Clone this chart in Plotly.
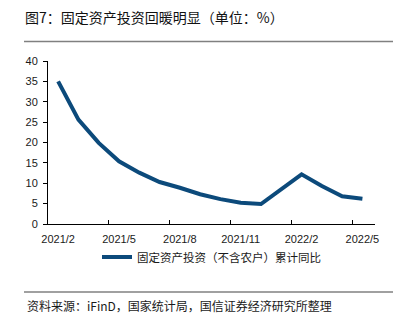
import plotly.graph_objects as go

# Cumulative year-on-year growth of fixed-asset investment (excluding rural households), %
months = ["2021/2", "2021/3", "2021/4", "2021/5", "2021/6", "2021/7", "2021/8",
          "2021/9", "2021/10", "2021/11", "2021/12", "2022/2", "2022/3", "2022/4", "2022/5"]
growth = [35.0, 25.6, 19.9, 15.4, 12.6, 10.3, 8.9, 7.3, 6.1, 5.2, 4.9, 12.2, 9.3, 6.8, 6.2]

tick_labels = ["2021/2", "2021/5", "2021/8", "2021/11", "2022/2", "2022/5"]
y_ticks = [0, 5, 10, 15, 20, 25, 30, 35, 40]


def month_index(label):
    y, m = label.split("/")
    return (int(y) - 2021) * 12 + int(m) - 2


x_vals = [month_index(m) for m in months]
label_pos = [month_index(t) for t in tick_labels]
boundary_pos = [p - 0.5 for p in label_pos[1:]]

LINE_COLOR = "#0c4a7b"
CJK = "Noto Sans CJK SC"
LATIN = "Liberation Sans, Arial, sans-serif"
X_RANGE = [-0.5, 15.62]

fig = go.Figure()
fig.add_trace(go.Scatter(
    x=x_vals, y=growth, mode="lines",
    name="固定资产投资（不含农户）累计同比",
    line=dict(color=LINE_COLOR, width=4),
    hoverinfo="skip",
))

fig.update_layout(
    width=403, height=324,
    margin=dict(l=48, r=28, t=61, b=100),
    paper_bgcolor="white", plot_bgcolor="white",
    showlegend=True,
    title=dict(
        text="图7：固定资产投资回暖明显（单位：%）",
        x=25 / 403, xanchor="left", xref="container",
        y=1 - 18 / 324, yanchor="middle", yref="container",
        font=dict(family=CJK, size=14, color="#111111"),
    ),
    legend=dict(
        orientation="h", x=(97 - 48) / 327, xanchor="left",
        y=(224 - 257) / 163, yanchor="middle",
        font=dict(family=CJK, size=11.5, color="#1a1a1a"),
        bgcolor="rgba(0,0,0,0)", itemwidth=30,
    ),
    xaxis=dict(
        range=X_RANGE, showgrid=False, zeroline=False,
        showline=True, linecolor="black", linewidth=1,
        tickmode="array", tickvals=label_pos, ticktext=tick_labels,
        ticks="", ticklabelstandoff=5,
        tickfont=dict(family=LATIN, size=11, color="#1a1a1a"),
        minor=dict(
            tickmode="array", tickvals=boundary_pos,
            ticks="inside", ticklen=4, tickcolor="black", tickwidth=1,
            showgrid=False,
        ),
        fixedrange=True,
    ),
    yaxis=dict(
        range=[0, 40], showgrid=False, zeroline=False,
        showline=True, linecolor="black", linewidth=1,
        tickmode="array", tickvals=y_ticks,
        ticks="outside", ticklen=4, tickcolor="black", tickwidth=1,
        ticklabelstandoff=3,
        tickfont=dict(family=LATIN, size=11, color="#1a1a1a"),
        fixedrange=True,
    ),
)

# Rules above the chart and above the source note
for y_px in (41.5, 292):
    fig.add_shape(
        type="line", xref="paper", yref="paper",
        x0=(24 - 48) / 327, x1=(393 - 48) / 327,
        y0=(224 - y_px) / 163, y1=(224 - y_px) / 163,
        line=dict(color="#808080", width=1.5),
    )

fig.add_annotation(
    text="资料来源：iFinD，国家统计局，国信证券经济研究所整理",
    xref="paper", yref="paper",
    x=(25 - 48) / 327, xanchor="left",
    y=(224 - 305) / 163, yanchor="middle",
    showarrow=False, font=dict(family=CJK, size=12, color="#1a1a1a"),
)

fig.write_html("out.html")
